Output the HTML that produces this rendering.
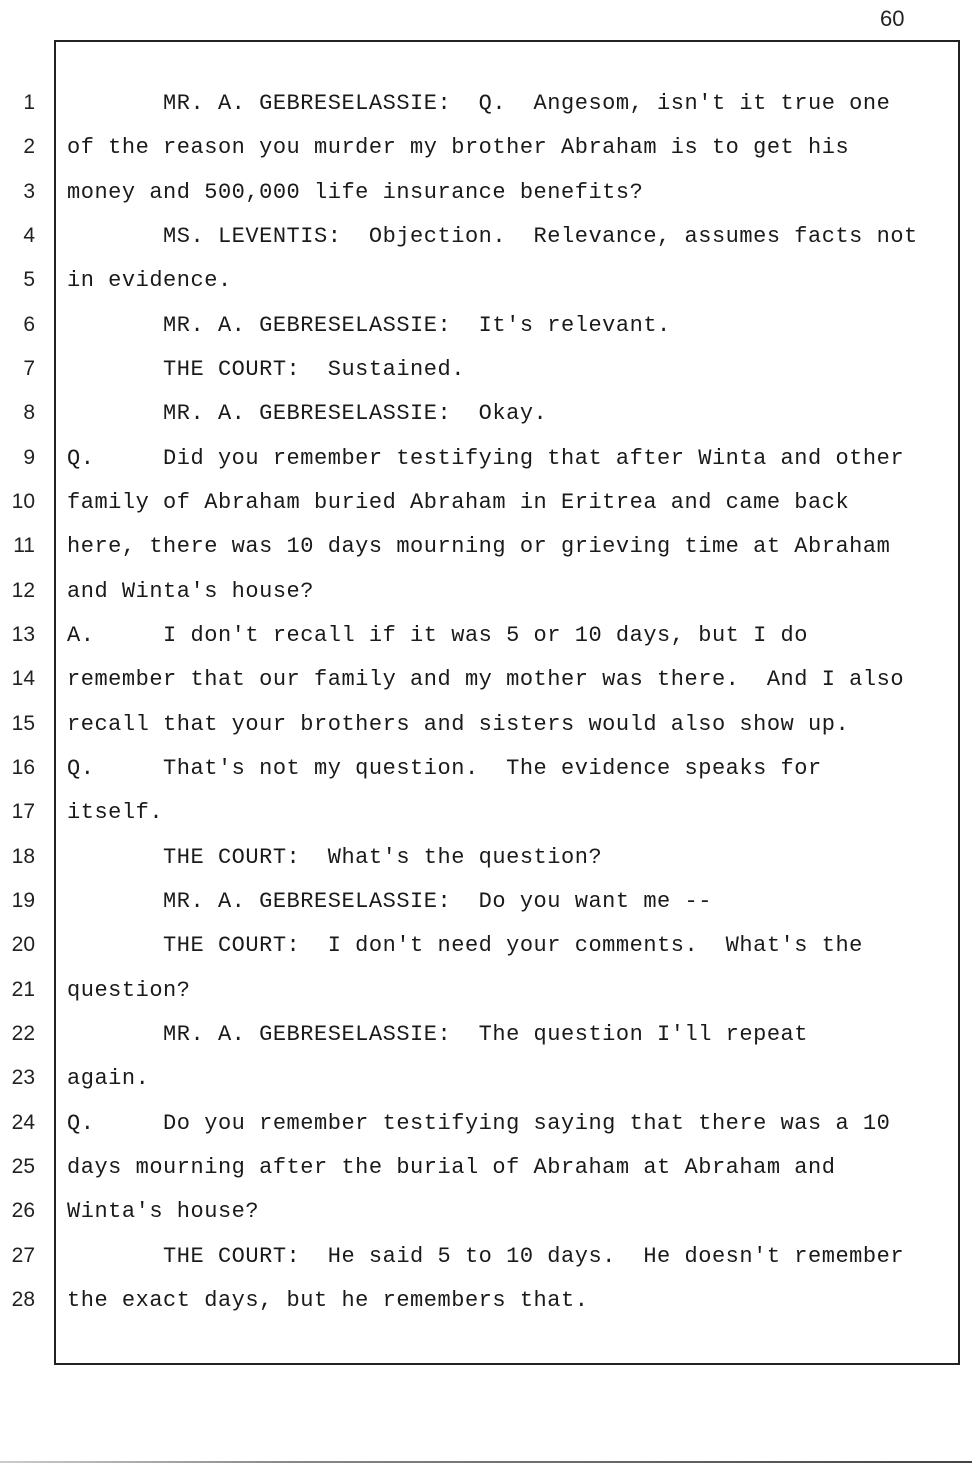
<!DOCTYPE html>
<html><head><meta charset="utf-8"><style>
body{margin:0;width:972px;height:1472px;background:#fff;position:relative;overflow:hidden}
.box{position:absolute;left:54px;top:40px;width:902px;height:1321px;border:2px solid #222}
.pn{position:absolute;left:880px;top:6px;font:22px "Liberation Sans",sans-serif;color:#222}
.ln{position:absolute;left:0;width:35px;text-align:right;font:21px "Liberation Sans",sans-serif;color:#222}
.tx{position:absolute;left:67px;font:22px "Liberation Mono",monospace;letter-spacing:0.52px;white-space:pre;color:#1a1a1a}
.bl{position:absolute;left:0;top:1461px;width:972px;height:2px;background:linear-gradient(90deg,#ccc,#888 30%,#444)}
</style></head><body>
<div class="pn">60</div>
<div class="box"></div>
<div class="bl"></div>
<div id="c"></div>
<script>
var L=["       MR. A. GEBRESELASSIE:  Q.  Angesom, isn't it true one",
"of the reason you murder my brother Abraham is to get his",
"money and 500,000 life insurance benefits?",
"       MS. LEVENTIS:  Objection.  Relevance, assumes facts not",
"in evidence.",
"       MR. A. GEBRESELASSIE:  It's relevant.",
"       THE COURT:  Sustained.",
"       MR. A. GEBRESELASSIE:  Okay.",
"Q.     Did you remember testifying that after Winta and other",
"family of Abraham buried Abraham in Eritrea and came back",
"here, there was 10 days mourning or grieving time at Abraham",
"and Winta's house?",
"A.     I don't recall if it was 5 or 10 days, but I do",
"remember that our family and my mother was there.  And I also",
"recall that your brothers and sisters would also show up.",
"Q.     That's not my question.  The evidence speaks for",
"itself.",
"       THE COURT:  What's the question?",
"       MR. A. GEBRESELASSIE:  Do you want me --",
"       THE COURT:  I don't need your comments.  What's the",
"question?",
"       MR. A. GEBRESELASSIE:  The question I'll repeat",
"again.",
"Q.     Do you remember testifying saying that there was a 10",
"days mourning after the burial of Abraham at Abraham and",
"Winta's house?",
"       THE COURT:  He said 5 to 10 days.  He doesn't remember",
"the exact days, but he remembers that."];
var h="";
for(var i=0;i<28;i++){var y=102+i*44.33-14;
h+='<div class="ln" style="top:'+(y+3)+'px">'+(i+1)+'</div>';
h+='<div class="tx" style="top:'+(y+3)+'px">'+L[i].replace(/&/g,'&amp;').replace(/</g,'&lt;')+'</div>';}
document.getElementById('c').innerHTML=h;
</script>
</body></html>
